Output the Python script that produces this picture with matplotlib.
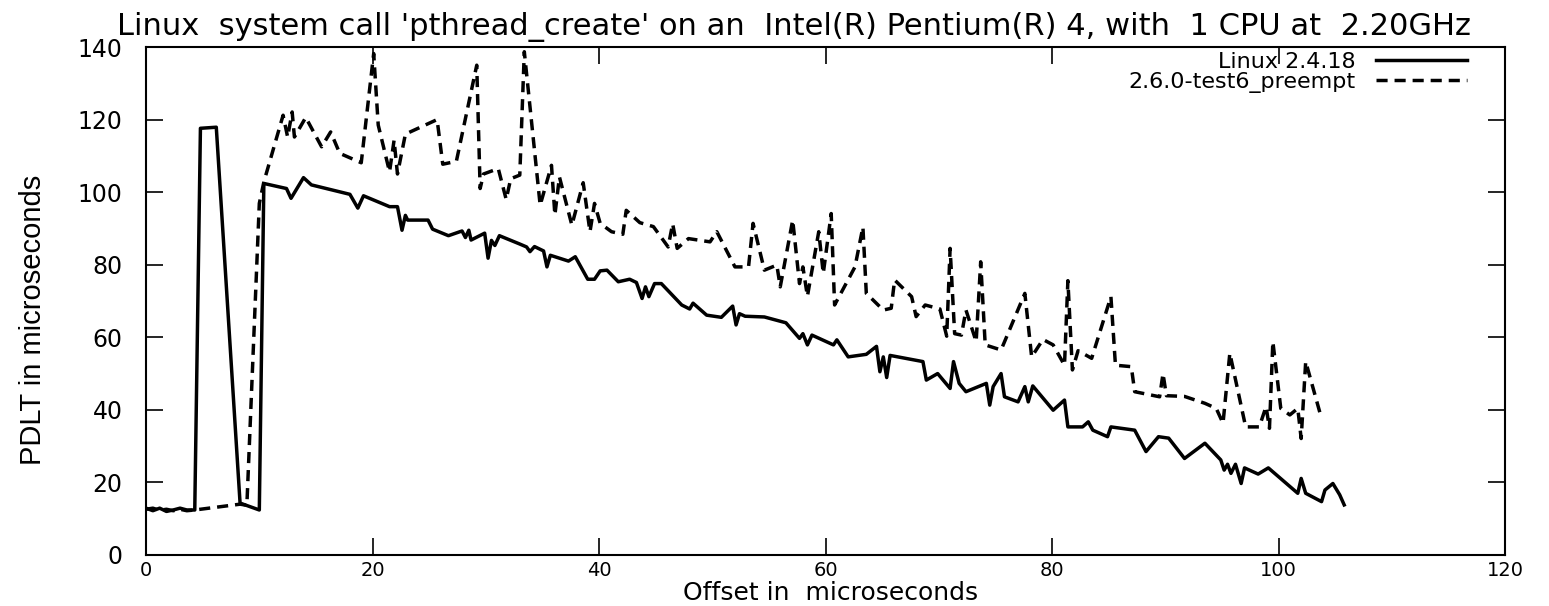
"""
PDLT of pthread_create, Linux 2.4.18 vs 2.6.0-test6_preempt.
"""
import matplotlib

matplotlib.use("Agg")
import matplotlib.pyplot as plt

# Linux 2.4.18 (solid)
x_old = [0, 0.6, 1.2, 1.8, 2.4, 3.0, 3.6, 4.3, 4.8, 6.2, 8.3, 10.0, 10.4, 12.4, 12.8,
         13.9, 14.6, 18.0, 18.7, 19.2, 21.5, 22.2, 22.6, 22.9, 23.1, 24.9, 25.3, 26.7,
         27.9, 28.2, 28.5, 28.7, 29.9, 30.2, 30.5, 30.8, 31.2, 33.0, 33.6, 33.9, 34.3,
         35.1, 35.4, 35.7, 37.3, 37.9, 39.0, 39.6, 40.1, 40.7, 41.7, 42.7, 43.3, 43.8,
         44.1, 44.4, 44.9, 45.5, 47.3, 48.0, 48.3, 49.5, 50.8, 51.8, 52.1, 52.4, 52.9,
         54.6, 56.5, 57.7, 58.0, 58.4, 58.8, 60.7, 61.0, 62.0, 63.6, 64.5, 64.8, 65.1,
         65.4, 65.7, 68.6, 68.9, 69.9, 71.0, 71.3, 71.8, 72.4, 74.2, 74.5, 74.8, 75.5,
         75.8, 77.0, 77.6, 77.9, 78.3, 80.1, 81.1, 81.4, 82.7, 83.2, 83.6, 84.9, 85.2,
         87.3, 88.3, 89.4, 90.3, 91.7, 93.5, 94.9, 95.2, 95.5, 95.8, 96.2, 96.7, 97.0,
         98.2, 99.1, 101.7, 102.0, 102.4, 103.8, 104.1, 104.8, 105.4, 105.8]
y_old = [12.9, 12.2, 12.9, 12.0, 12.4, 12.9, 12.4, 12.4, 117.6, 117.9, 14.3, 12.4, 102.4,
         101.0, 98.3, 104.0, 102.0, 99.4, 95.6, 99.0, 96.0, 96.0, 89.5, 93.6, 92.3, 92.3,
         89.8, 88.0, 89.3, 87.5, 89.5, 86.8, 88.7, 81.8, 86.7, 85.3, 88.0, 85.7, 84.9,
         83.6, 85.0, 83.8, 79.4, 82.6, 81.0, 82.2, 76.0, 76.0, 78.3, 78.5, 75.3, 76.0,
         75.1, 70.7, 73.9, 71.2, 74.8, 74.8, 68.9, 67.8, 69.4, 66.1, 65.5, 68.6, 63.4,
         66.5, 65.8, 65.6, 64.0, 59.7, 61.0, 57.9, 60.6, 57.9, 59.3, 54.6, 55.3, 57.5,
         50.5, 54.6, 48.9, 55.0, 53.3, 48.2, 50.0, 45.9, 53.3, 47.3, 45.0, 47.3, 41.3,
         46.4, 50.0, 43.6, 42.2, 46.4, 42.2, 46.6, 39.9, 42.7, 35.3, 35.3, 36.7, 34.4,
         32.6, 35.3, 34.4, 28.5, 32.6, 32.2, 26.6, 30.8, 26.2, 23.4, 25.0, 22.5, 25.0,
         19.7, 24.0, 22.3, 24.0, 17.0, 21.1, 17.0, 14.7, 17.9, 19.7, 16.6, 13.8]

# 2.6.0-test6_preempt (dashed)
x_new = [0, 0.6, 1.2, 1.8, 2.4, 3.0, 3.6, 4.3, 8.3, 8.9, 10.0, 10.4, 12.1, 12.5, 12.9,
         13.1, 14.1, 15.5, 16.3, 17.1, 19.0, 20.1, 20.5, 21.5, 21.9, 22.2, 22.9, 25.7,
         26.2, 27.4, 29.2, 29.5, 29.8, 31.1, 31.8, 32.2, 33.0, 33.4, 34.8, 35.8, 36.1,
         36.5, 37.6, 38.6, 39.2, 39.6, 40.1, 41.1, 42.1, 42.4, 43.6, 44.8, 46.1, 46.5,
         46.9, 47.9, 49.8, 50.4, 52.0, 53.2, 53.6, 54.6, 55.7, 56.0, 57.1, 57.7, 58.0,
         58.4, 59.4, 59.8, 60.5, 60.8, 62.6, 63.3, 63.6, 65.1, 65.8, 66.1, 67.6, 68.0,
         68.8, 70.1, 70.7, 71.0, 71.4, 72.0, 72.4, 73.3, 73.7, 74.1, 75.5, 77.6, 78.2,
         79.2, 80.1, 81.1, 81.4, 81.8, 82.3, 83.5, 85.2, 85.6, 87.0, 87.3, 89.5, 89.8,
         90.1, 91.7, 93.5, 94.5, 95.1, 95.7, 97.1, 98.3, 98.9, 99.2, 99.5, 100.2, 101.0,
         101.7, 102.0, 102.4, 103.8]
y_new = [12.6, 12.9, 12.3, 12.6, 12.2, 12.6, 12.2, 12.4, 14.0, 13.7, 96.9, 102.8, 121.2,
         115.2, 122.1, 115.2, 120.6, 112.5, 116.6, 110.7, 108.1, 138.2, 118.5, 105.6,
         114.3, 105.0, 116.0, 120.0, 107.7, 108.5, 135.0, 101.0, 105.0, 106.5, 98.0,
         103.7, 104.7, 138.7, 96.4, 107.4, 93.7, 104.2, 90.9, 102.6, 89.1, 96.9, 91.4,
         89.1, 88.4, 95.0, 91.6, 90.5, 84.9, 91.3, 84.5, 87.2, 86.3, 89.1, 79.4, 79.4,
         91.4, 78.5, 79.9, 73.9, 92.3, 74.8, 79.4, 71.3, 89.1, 77.6, 94.1, 68.9, 79.4,
         90.4, 72.1, 67.5, 68.0, 75.8, 71.2, 65.7, 68.9, 67.8, 60.3, 84.5, 61.0, 60.6,
         67.5, 58.8, 80.8, 57.9, 56.5, 72.1, 54.6, 59.4, 57.9, 52.3, 75.6, 51.0, 56.3,
         54.2, 71.2, 52.3, 51.9, 45.0, 43.6, 50.0, 43.9, 43.7, 41.8, 40.4, 36.3, 55.6,
         35.3, 35.3, 40.9, 34.9, 58.8, 40.4, 38.6, 40.4, 32.1, 53.3, 37.6]

labels = ["Linux 2.4.18", "2.6.0-test6_preempt"]
title = "Linux  system call 'pthread_create' on an  Intel(R) Pentium(R) 4, with  1 CPU at  2.20GHz"

plt.rcParams["font.family"] = ["DejaVu Sans"]

fig = plt.figure(figsize=(15.49, 6.06), dpi=100)
ax = fig.add_axes([0.0943, 0.0842, 0.8773, 0.8382])

ax.plot(x_old, y_old, color="black", lw=2.5, label=labels[0])
ax.plot(x_new, y_new, color="black", lw=2.5, dashes=(3.2, 2.0), label=labels[1])

ax.set_xlim(0, 120)
ax.set_ylim(0, 140)
ax.set_xticks(range(0, 121, 20))
ax.set_yticks(range(0, 141, 20))
ax.tick_params(direction="in", length=12, width=1.2, top=True, right=True)
ax.tick_params(axis="y", pad=17, labelsize=17)
ax.tick_params(axis="x", pad=4, labelsize=14)
for s in ax.spines.values():
    s.set_linewidth(1.5)

ax.set_xlabel("Offset in  microseconds", fontsize=18, va="baseline")
ax.xaxis.set_label_coords(0.504, -0.0886)
ax.set_ylabel("PDLT in microseconds", fontsize=21, family=["Liberation Sans"])
ax.yaxis.set_label_coords(-0.0728, 0.4626)
ax.set_title(title, fontsize=22, x=0.477, pad=9)

leg = ax.legend(loc="upper right", bbox_to_anchor=(0.972, 0.99), markerfirst=False,
                frameon=False, fontsize=16, handlelength=4.1, handletextpad=0.9,
                borderaxespad=0, borderpad=0, labelspacing=0.0)
for col in leg._legend_handle_box.get_children():
    col.align = "right"

fig.savefig("out.png", dpi=100)
